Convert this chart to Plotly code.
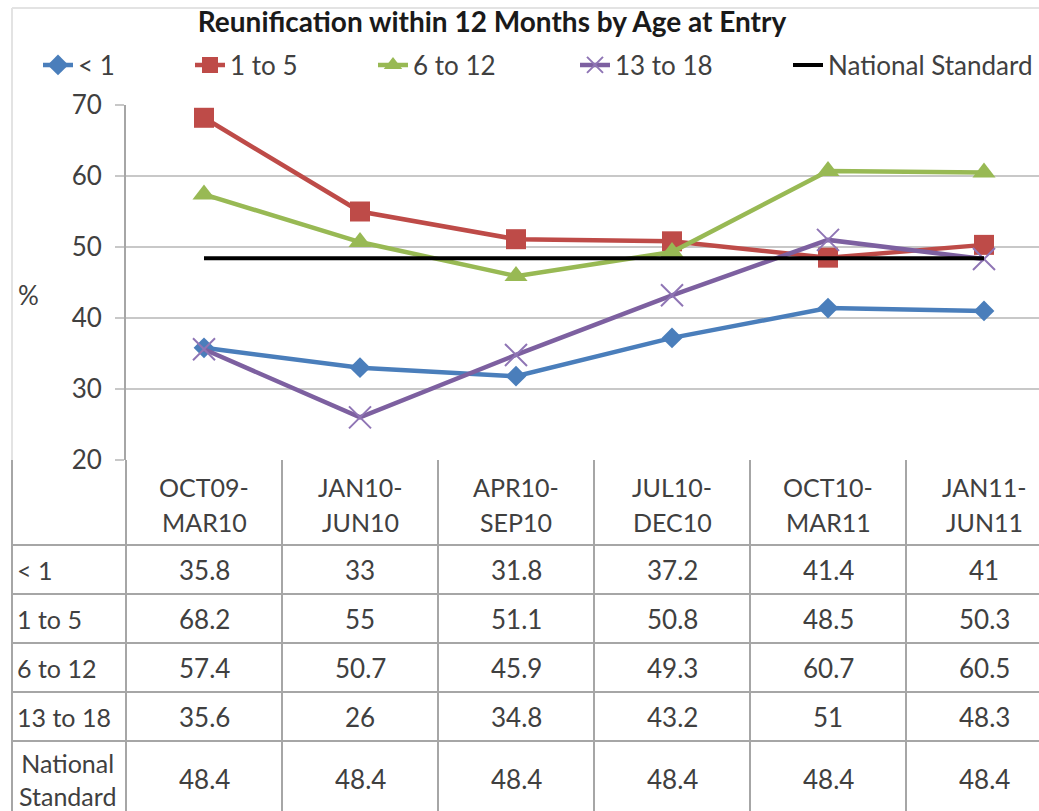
import plotly.graph_objects as go

categories = ["OCT09-MAR10", "JAN10-JUN10", "APR10-SEP10", "JUL10-DEC10", "OCT10-MAR11", "JAN11-JUN11"]
under_1 = [35.8, 33, 31.8, 37.2, 41.4, 41]
age_1_5 = [68.2, 55, 51.1, 50.8, 48.5, 50.3]
age_6_12 = [57.4, 50.7, 45.9, 49.3, 60.7, 60.5]
age_13_18 = [35.6, 26, 34.8, 43.2, 51, 48.3]
national_standard = [48.4, 48.4, 48.4, 48.4, 48.4, 48.4]
y_ticks = [20, 30, 40, 50, 60, 70]

FONT = "Lato, 'Noto Sans', sans-serif"
TEXT = "#404040"
GRID = "#c8c8c8"
TABLE_LINE = "#a6a6a6"

W, H = 1039, 811
L, T, B = 126, 105, 460
PW, PH = W - L, B - T
COL_W = 156


def px(X):
    return (X - L) / PW


def py(Y):
    return (B - Y) / PH


series = [
    dict(name="< 1", y=under_1, color="#4a7ebb", symbol="diamond", size=16, lx=38),
    dict(name="1 to 5", y=age_1_5, color="#be4b48", symbol="square", size=20, lx=190),
    dict(name="6 to 12", y=age_6_12, color="#98b954", symbol="triangle-up", size=20, lx=373),
    dict(name="13 to 18", y=age_13_18, color="#7d60a0", symbol="x-thin", size=22, lx=575),
    dict(name="National Standard", y=national_standard, color="#000000", symbol=None, size=0, lx=788),
]

x_idx = list(range(len(categories)))
fig = go.Figure()
legends = {}
for i, s in enumerate(series):
    leg = "legend" if i == 0 else f"legend{i + 1}"
    if s["symbol"] is None:
        fig.add_trace(go.Scatter(x=x_idx, y=s["y"], name=s["name"], mode="lines",
                                 line=dict(color=s["color"], width=4), legend=leg,
                                 showlegend=True))
    else:
        marker = dict(symbol=s["symbol"], size=s["size"], color=s["color"])
        if s["symbol"] == "x-thin":
            marker["line"] = dict(color="#8f75b5", width=2)
        fig.add_trace(go.Scatter(x=x_idx, y=s["y"], name=s["name"], mode="lines+markers",
                                 line=dict(color=s["color"], width=4.5), marker=marker,
                                 legend=leg, showlegend=True))
    legends[leg] = dict(x=px(s["lx"]), xanchor="left", y=py(65), yanchor="middle",
                        orientation="h", bgcolor="rgba(0,0,0,0)",
                        font=dict(family=FONT, size=26, color=TEXT))

shapes = []
# y axis continues down through the table
shapes.append(dict(type="line", xref="paper", yref="paper", x0=0, x1=0, y0=0, y1=py(H),
                   line=dict(color=TABLE_LINE, width=2)))
# column separators
for i in range(len(categories) - 1):
    shapes.append(dict(type="line", xref="x", yref="paper", x0=i + 0.5, x1=i + 0.5,
                       y0=0, y1=py(H), line=dict(color=TABLE_LINE, width=2)))
# row separators
ROW_TOP, ROW_H = 545, 49
for k in range(len(series)):
    yy = py(ROW_TOP + k * ROW_H)
    shapes.append(dict(type="line", xref="paper", yref="paper", x0=px(12), x1=1,
                       y0=yy, y1=yy, line=dict(color=TABLE_LINE, width=2)))
# outer chart border
shapes.append(dict(type="line", xref="paper", yref="paper", x0=px(12), x1=px(12),
                   y0=py(8), y1=py(460), line=dict(color="#e3e3e3", width=2)))
shapes.append(dict(type="line", xref="paper", yref="paper", x0=px(12), x1=px(12),
                   y0=py(460), y1=py(H), line=dict(color=TABLE_LINE, width=2)))
shapes.append(dict(type="line", xref="paper", yref="paper", x0=px(12), x1=1,
                   y0=py(8), y1=py(8), line=dict(color="#e3e3e3", width=2)))

annotations = []
tf = dict(family=FONT, size=25, color=TEXT)
nf = dict(family=FONT, size=26, color=TEXT)
# category header (two lines)
for i, c in enumerate(categories):
    top, bottom = c.split("-")
    annotations.append(dict(x=i, xref="x", y=py(487), yref="paper", text=top + "-",
                            showarrow=False, font=tf, xanchor="center", yanchor="middle"))
    annotations.append(dict(x=i, xref="x", y=py(522), yref="paper", text=bottom,
                            showarrow=False, font=tf, xanchor="center", yanchor="middle"))
# table rows
for k, s in enumerate(series):
    last = k == len(series) - 1
    yc = 779 if last else ROW_TOP + k * ROW_H + ROW_H / 2
    if last:
        annotations.append(dict(x=px(67), xref="paper", y=py(yc), yref="paper",
                                text="National<br>Standard", showarrow=False, font=tf,
                                xanchor="center", yanchor="middle"))
    else:
        annotations.append(dict(x=px(15), xref="paper", y=py(yc), yref="paper",
                                text=s["name"], showarrow=False, font=tf,
                                xanchor="left", yanchor="middle"))
    for i, v in enumerate(s["y"]):
        annotations.append(dict(x=i, xref="x", y=py(yc), yref="paper", text=f"{v:g}",
                                showarrow=False, font=nf, xanchor="center", yanchor="middle"))
# axis title
annotations.append(dict(x=px(28), xref="paper", y=py(295), yref="paper", text="%",
                        showarrow=False, font=nf, xanchor="center", yanchor="middle"))

fig.update_layout(
    width=W, height=H,
    margin=dict(l=L, r=0, t=T, b=H - B),
    paper_bgcolor="#ffffff", plot_bgcolor="#ffffff",
    title=dict(text="<b>Reunification within 12 Months by Age at Entry</b>",
               x=492 / W, xanchor="center", xref="container",
               y=1 - 22 / H, yanchor="middle", yref="container",
               font=dict(family=FONT, size=28, color="#1a1a1a")),
    xaxis=dict(range=[-0.5, -0.5 + PW / COL_W], showticklabels=False, showgrid=False,
               zeroline=False, showline=False, fixedrange=True),
    yaxis=dict(range=[20, 70], tickvals=y_ticks, showgrid=True, gridcolor=GRID, gridwidth=2,
               zeroline=False, showline=True, linecolor=TABLE_LINE, linewidth=2,
               ticks="outside", ticklen=9, tickwidth=2, tickcolor=GRID,
               ticklabelstandoff=8,
               tickfont=dict(family=FONT, size=26, color=TEXT)),
    shapes=shapes,
    annotations=annotations,
    **legends,
)

# page margin off so the figure fills the window exactly
fig.write_html("out.html", config={"displayModeBar": False},
               post_script="document.body.style.margin='0';")
